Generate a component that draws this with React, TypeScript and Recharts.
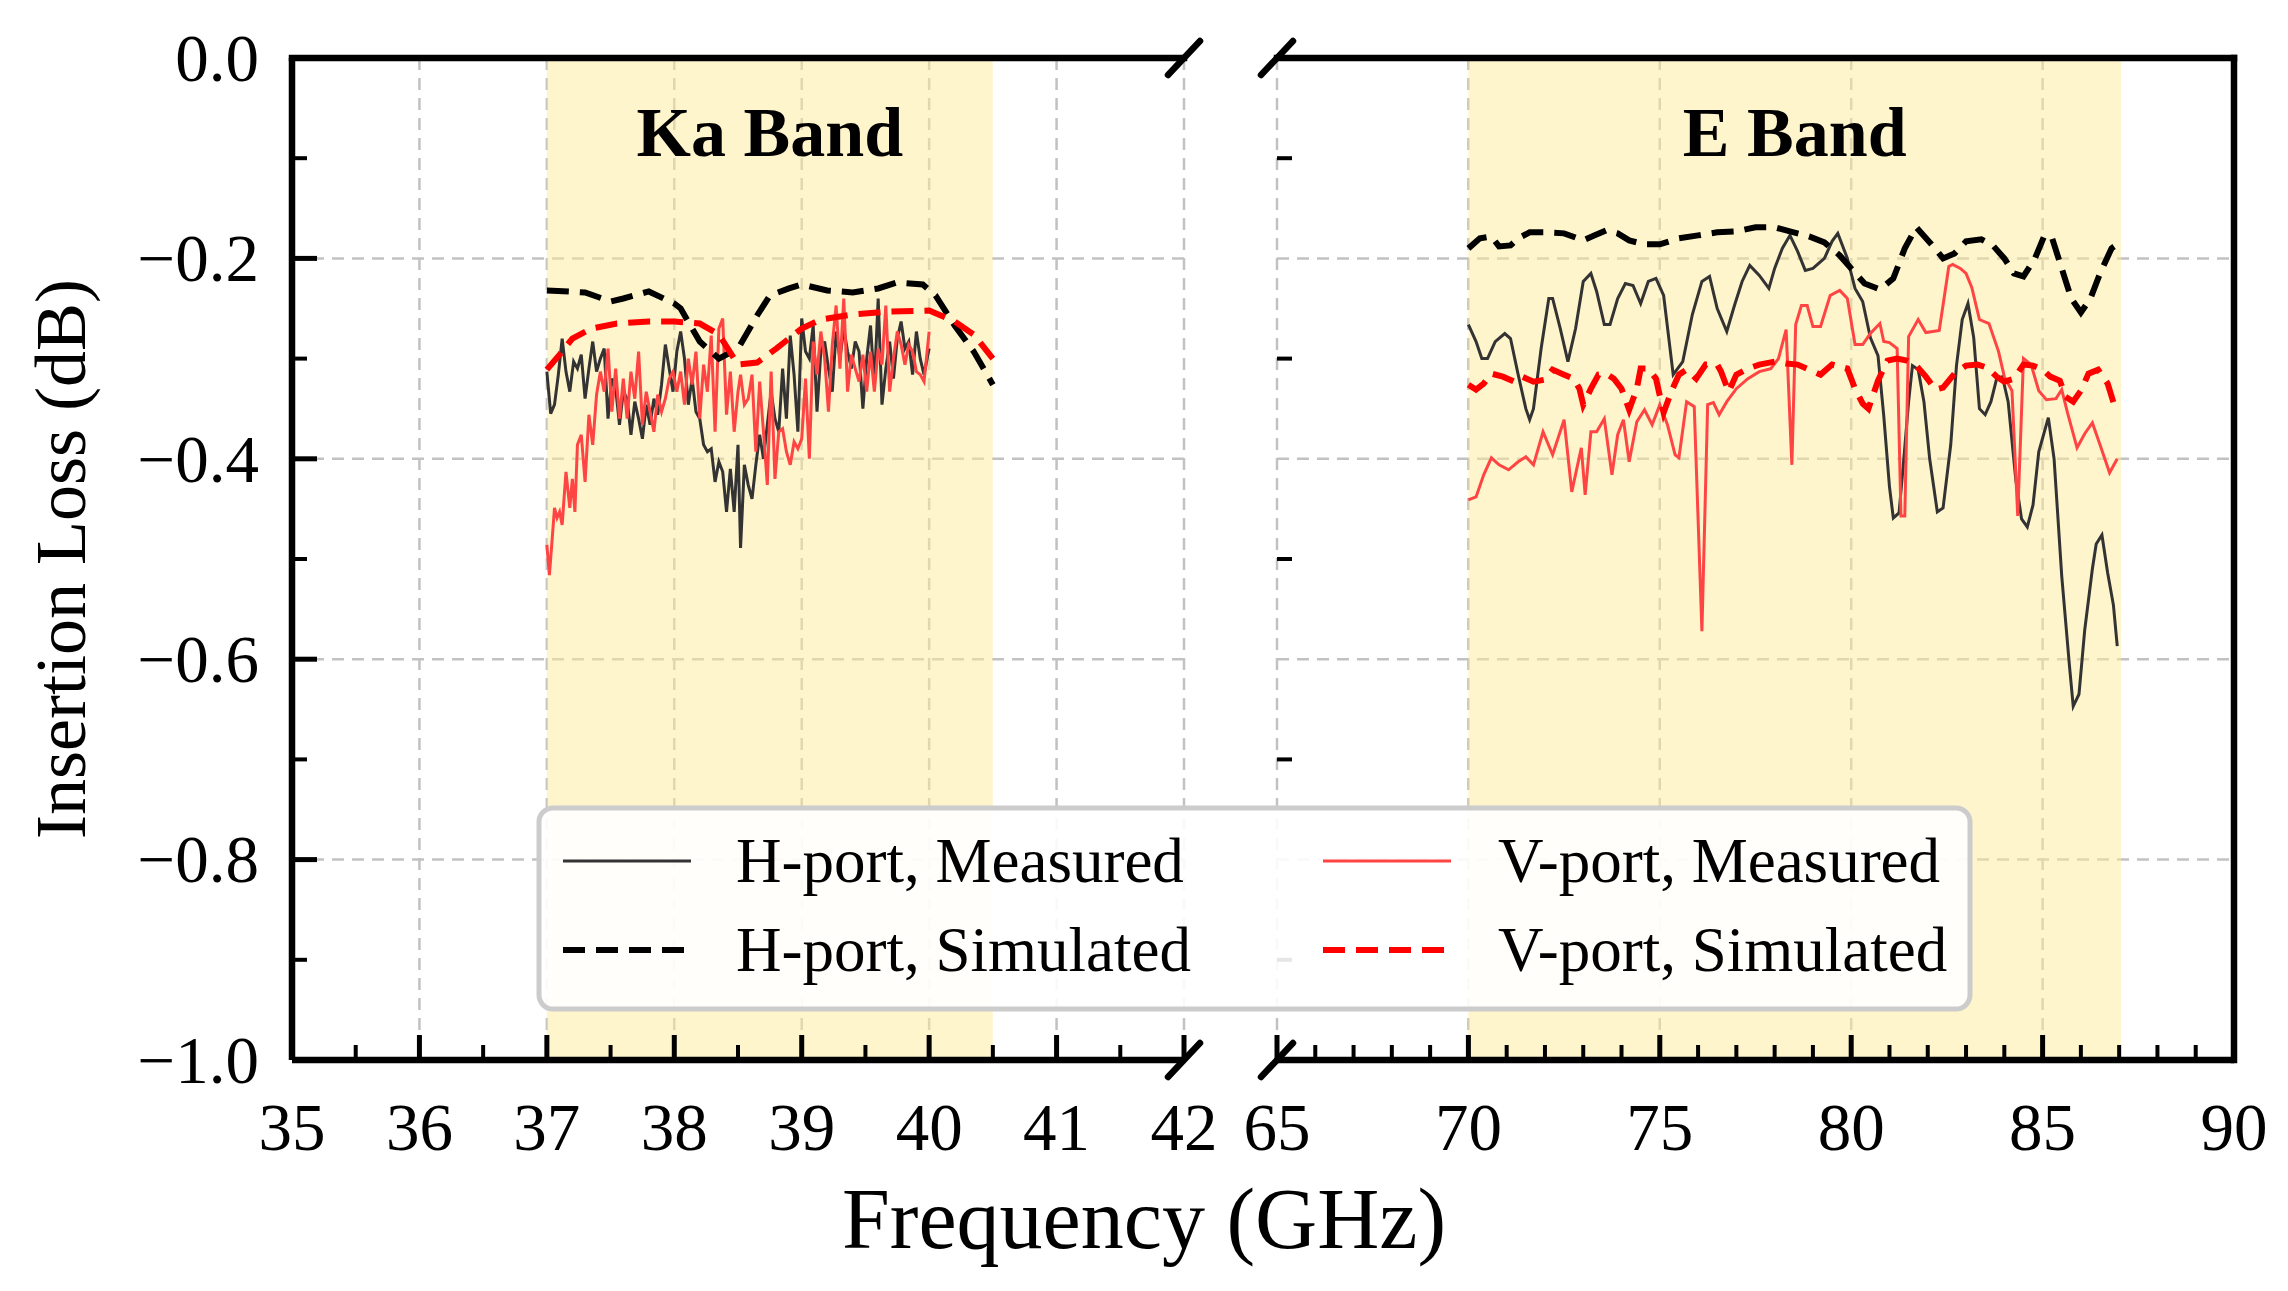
import React from 'react';
import {
  LineChart,
  Line,
  XAxis,
  YAxis,
  CartesianGrid,
  ReferenceArea,
  ReferenceLine,
  ReferenceDot,
} from 'recharts';

const SERIF = '"Liberation Serif", "Times New Roman", serif';

// ---------- axes ----------
const kaTicks = [35, 36, 37, 38, 39, 40, 41, 42];
const kaMinorTicks = [35.5, 36.5, 37.5, 38.5, 39.5, 40.5, 41.5];
const eTicks = [65, 70, 75, 80, 85, 90];
const eMinorTicks = [66, 67, 68, 69, 71, 72, 73, 74, 76, 77, 78, 79, 81, 82, 83, 84, 86, 87, 88, 89];
const lossTicks = [0, -0.2, -0.4, -0.6, -0.8, -1];
const lossMinorTicks = [-0.1, -0.3, -0.5, -0.7, -0.9];
const gridLoss = [-0.2, -0.4, -0.6, -0.8];
const kaGridFreq = [36, 37, 38, 39, 40, 41, 42];
const eGridFreq = [65, 70, 75, 80, 85];

// shaded bands (GHz)
const kaBand = [37, 40.5];
const eBand = [70, 87.05];

// ---------- Ka band ----------
const kaHMeasFreq = [
  37.0, 37.03, 37.06, 37.09, 37.12, 37.15, 37.18, 37.21, 37.24, 37.27,
  37.3, 37.33, 37.36, 37.39, 37.42, 37.45, 37.48, 37.51, 37.54, 37.57,
  37.6, 37.63, 37.66, 37.69, 37.72, 37.75, 37.78, 37.81, 37.84, 37.87,
  37.9, 37.93, 37.96, 37.99, 38.02, 38.05, 38.08, 38.11, 38.14, 38.17,
  38.2, 38.23, 38.26, 38.29, 38.32, 38.35, 38.38, 38.41, 38.44, 38.47,
  38.5, 38.52, 38.55, 38.58, 38.61, 38.64, 38.67, 38.7, 38.73, 38.76,
  38.79, 38.82, 38.85, 38.88, 38.91, 38.94, 38.97, 39.0, 39.03, 39.06,
  39.09, 39.12, 39.15, 39.18, 39.21, 39.24, 39.27, 39.3, 39.33, 39.36,
  39.39, 39.42, 39.45, 39.48, 39.51, 39.54, 39.57, 39.6, 39.63, 39.66,
  39.69, 39.72, 39.75, 39.78, 39.81, 39.84, 39.87, 39.9, 39.93, 39.96,
  40.0,
];
const kaHMeasLoss = [
  -0.313, -0.355, -0.346, -0.316, -0.28, -0.313, -0.333, -0.303, -0.31, -0.296,
  -0.34, -0.31, -0.283, -0.313, -0.3, -0.29, -0.36, -0.32, -0.33, -0.366,
  -0.333, -0.34, -0.376, -0.343, -0.36, -0.38, -0.346, -0.366, -0.34, -0.356,
  -0.326, -0.286, -0.31, -0.333, -0.293, -0.273, -0.3, -0.346, -0.32, -0.353,
  -0.36, -0.386, -0.393, -0.39, -0.423, -0.403, -0.413, -0.453, -0.41, -0.453,
  -0.386, -0.489, -0.406, -0.426, -0.44, -0.406, -0.376, -0.4, -0.366, -0.333,
  -0.36, -0.373, -0.31, -0.36, -0.277, -0.316, -0.373, -0.26, -0.293, -0.3,
  -0.267, -0.353, -0.293, -0.283, -0.31, -0.333, -0.273, -0.3, -0.27, -0.293,
  -0.31, -0.283, -0.293, -0.35, -0.3, -0.267, -0.326, -0.24, -0.346, -0.31,
  -0.283, -0.32, -0.28, -0.263, -0.29, -0.283, -0.316, -0.273, -0.3, -0.316,
  -0.29,
];

const kaVMeasFreq = [
  37.0, 37.02, 37.04, 37.06, 37.08, 37.1, 37.12, 37.15, 37.18, 37.2,
  37.22, 37.24, 37.27, 37.3, 37.33, 37.36, 37.39, 37.42, 37.45, 37.48,
  37.51, 37.54, 37.57, 37.6, 37.63, 37.66, 37.69, 37.72, 37.75, 37.78,
  37.81, 37.84, 37.87, 37.9, 37.93, 37.96, 37.99, 38.02, 38.05, 38.08,
  38.11, 38.14, 38.17, 38.2, 38.23, 38.26, 38.29, 38.32, 38.35, 38.38,
  38.41, 38.44, 38.47, 38.5, 38.52, 38.55, 38.58, 38.61, 38.64, 38.67,
  38.7, 38.73, 38.76, 38.79, 38.82, 38.85, 38.88, 38.91, 38.94, 38.97,
  39.0, 39.03, 39.06, 39.09, 39.12, 39.15, 39.18, 39.21, 39.24, 39.27,
  39.3, 39.33, 39.36, 39.39, 39.42, 39.45, 39.48, 39.51, 39.54, 39.57,
  39.6, 39.63, 39.66, 39.69, 39.72, 39.75, 39.78, 39.81, 39.84, 39.87,
  39.9, 39.93, 39.96, 40.0,
];
const kaVMeasLoss = [
  -0.486, -0.516, -0.483, -0.449, -0.459, -0.453, -0.466, -0.413, -0.449, -0.42,
  -0.453, -0.386, -0.376, -0.423, -0.356, -0.386, -0.336, -0.313, -0.333, -0.29,
  -0.353, -0.31, -0.36, -0.32, -0.36, -0.313, -0.34, -0.293, -0.366, -0.333,
  -0.353, -0.373, -0.336, -0.353, -0.34, -0.32, -0.313, -0.333, -0.313, -0.346,
  -0.3, -0.326, -0.293, -0.36, -0.306, -0.333, -0.277, -0.373, -0.27, -0.26,
  -0.356, -0.313, -0.373, -0.333, -0.316, -0.346, -0.34, -0.316, -0.393, -0.323,
  -0.373, -0.426, -0.313, -0.42, -0.373, -0.37, -0.393, -0.406, -0.383, -0.39,
  -0.38, -0.32, -0.4, -0.283, -0.316, -0.273, -0.3, -0.353, -0.286, -0.247,
  -0.31, -0.24, -0.333, -0.296, -0.31, -0.323, -0.296, -0.333, -0.293, -0.333,
  -0.29, -0.306, -0.247, -0.333, -0.3, -0.273, -0.286, -0.306, -0.286, -0.293,
  -0.313, -0.316, -0.323, -0.273,
];

const kaHSimFreq = [
  37.0, 37.3, 37.5, 37.6, 37.8, 38.0, 38.05, 38.2, 38.35, 38.5, 38.65, 38.75,
  38.9, 39.0, 39.2, 39.4, 39.6, 39.75, 39.95, 40.05, 40.2, 40.35, 40.5,
];
const kaHSimLoss = [
  -0.232, -0.234, -0.243, -0.24, -0.233, -0.245, -0.25, -0.283, -0.3, -0.29, -0.257, -0.237,
  -0.23, -0.226, -0.232, -0.234, -0.23, -0.224, -0.226, -0.237, -0.267, -0.293, -0.326,
];

const kaVSimFreq = [
  37.0, 37.1, 37.2, 37.35, 37.55, 37.8, 38.0, 38.2, 38.35, 38.5,
  38.65, 38.8, 39.0, 39.15, 39.4, 39.7, 40.0, 40.2, 40.35, 40.5,
];
const kaVSimLoss = [
  -0.311, -0.296, -0.28, -0.27, -0.265, -0.263, -0.263, -0.265, -0.276, -0.306,
  -0.304, -0.29, -0.27, -0.261, -0.256, -0.253, -0.252, -0.263, -0.276, -0.3,
];

// ---------- E band ----------
const eHMeasFreq = [
  70.0, 70.2, 70.35, 70.5, 70.7, 70.95, 71.1, 71.3, 71.5, 71.6,
  71.7, 71.9, 72.1, 72.2, 72.4, 72.6, 72.8, 73.0, 73.2, 73.35,
  73.55, 73.7, 73.9, 74.1, 74.3, 74.5, 74.7, 74.9, 75.1, 75.35,
  75.6, 75.85, 76.1, 76.3, 76.5, 76.75, 76.95, 77.15, 77.35, 77.6,
  77.85, 78.0, 78.2, 78.4, 78.6, 78.8, 79.0, 79.3, 79.5, 79.65,
  79.9, 80.1, 80.3, 80.5, 80.7, 80.85, 81.0, 81.1, 81.25, 81.35,
  81.5, 81.6, 81.75, 81.9, 82.05, 82.25, 82.4, 82.6, 82.75, 82.9,
  83.05, 83.2, 83.35, 83.5, 83.65, 83.8, 83.95, 84.1, 84.3, 84.45,
  84.6, 84.75, 84.9, 85.15, 85.3, 85.5, 85.7, 85.8, 85.95, 86.1,
  86.3, 86.4, 86.55, 86.7, 86.85, 86.95,
];
const eHMeasLoss = [
  -0.266, -0.283, -0.3, -0.3, -0.283, -0.275, -0.28, -0.316, -0.35, -0.361,
  -0.35, -0.29, -0.24, -0.24, -0.27, -0.303, -0.27, -0.223, -0.215, -0.233,
  -0.266, -0.266, -0.24, -0.225, -0.227, -0.245, -0.223, -0.22, -0.237, -0.316,
  -0.303, -0.256, -0.223, -0.218, -0.25, -0.273, -0.247, -0.223, -0.207, -0.217,
  -0.23, -0.21, -0.19, -0.177, -0.193, -0.212, -0.21, -0.2, -0.183, -0.175,
  -0.2, -0.23, -0.243, -0.279, -0.297, -0.357, -0.428, -0.459, -0.454, -0.411,
  -0.343, -0.307, -0.311, -0.343, -0.4, -0.453, -0.449, -0.386, -0.307, -0.261,
  -0.245, -0.279, -0.35, -0.356, -0.343, -0.32, -0.318, -0.343, -0.421, -0.46,
  -0.468, -0.446, -0.393, -0.359, -0.4, -0.517, -0.606, -0.647, -0.635, -0.571,
  -0.51, -0.485, -0.476, -0.514, -0.546, -0.587,
];

const eVMeasFreq = [
  70.0, 70.2, 70.4, 70.6, 70.8, 71.05, 71.3, 71.5, 71.7, 71.95,
  72.2, 72.5, 72.7, 72.95, 73.05, 73.2, 73.35, 73.55, 73.75, 73.9,
  74.05, 74.2, 74.4, 74.6, 74.8, 75.0, 75.2, 75.4, 75.5, 75.7,
  75.9, 76.1, 76.25, 76.4, 76.55, 76.75, 77.0, 77.3, 77.6, 77.9,
  78.1, 78.3, 78.45, 78.55, 78.7, 78.85, 79.0, 79.2, 79.45, 79.7,
  79.9, 80.1, 80.3, 80.5, 80.75, 80.85, 81.0, 81.2, 81.3, 81.4,
  81.5, 81.75, 81.95, 82.3, 82.55, 82.65, 82.85, 83.0, 83.15, 83.35,
  83.6, 83.85, 84.0, 84.2, 84.35, 84.5, 84.7, 84.9, 85.1, 85.35,
  85.5, 85.65, 85.9, 86.1, 86.3, 86.5, 86.75, 86.95,
];
const eVMeasLoss = [
  -0.441, -0.438, -0.416, -0.399, -0.406, -0.411, -0.403, -0.398, -0.406, -0.373,
  -0.396, -0.361, -0.433, -0.389, -0.436, -0.373, -0.373, -0.36, -0.416, -0.376,
  -0.361, -0.403, -0.363, -0.351, -0.366, -0.346, -0.366, -0.396, -0.399, -0.343,
  -0.348, -0.572, -0.346, -0.344, -0.356, -0.343, -0.33, -0.32, -0.313, -0.31,
  -0.3, -0.271, -0.406, -0.266, -0.247, -0.247, -0.268, -0.268, -0.237, -0.232,
  -0.24, -0.286, -0.286, -0.275, -0.265, -0.283, -0.284, -0.29, -0.457, -0.457,
  -0.278, -0.261, -0.274, -0.272, -0.208, -0.206, -0.21, -0.215, -0.229, -0.261,
  -0.265, -0.293, -0.318, -0.332, -0.457, -0.3, -0.306, -0.332, -0.341, -0.34,
  -0.331, -0.354, -0.389, -0.375, -0.364, -0.386, -0.414, -0.4,
];

const eHSimFreq = [
  70.0, 70.3, 70.6, 70.8, 71.1, 71.3, 71.6, 72.0, 72.5, 73.0,
  73.3, 73.6, 73.9, 74.2, 74.6, 75.0, 75.5, 76.0, 76.5, 77.0,
  77.5, 78.0, 78.4, 78.9, 79.3, 79.7, 80.0, 80.35, 80.75, 81.1,
  81.4, 81.7, 82.1, 82.4, 82.7, 83.0, 83.4, 83.7, 84.0, 84.25,
  84.5, 84.8, 85.05, 85.25, 85.5, 85.75, 86.0, 86.25, 86.5, 86.8,
  86.95,
];
const eHSimLoss = [
  -0.19, -0.18, -0.178, -0.188, -0.187, -0.18, -0.174, -0.174, -0.175, -0.182,
  -0.177, -0.172, -0.175, -0.182, -0.186, -0.186, -0.18, -0.177, -0.174, -0.173,
  -0.169, -0.169, -0.173, -0.178, -0.184, -0.197, -0.21, -0.225, -0.231, -0.22,
  -0.19, -0.169, -0.186, -0.2, -0.195, -0.183, -0.181, -0.187, -0.2, -0.215,
  -0.218, -0.2, -0.177, -0.18, -0.21, -0.24, -0.254, -0.24, -0.215, -0.19,
  -0.186,
];

const eVSimFreq = [
  70.0, 70.2, 70.4, 70.6, 70.9, 71.2, 71.4, 71.7, 72.0, 72.2,
  72.5, 72.75, 72.9, 73.0, 73.2, 73.4, 73.6, 73.8, 74.0, 74.2,
  74.4, 74.5, 74.7, 74.9, 75.1, 75.3, 75.5, 75.7, 75.95, 76.2,
  76.5, 76.6, 76.8, 77.0, 77.3, 77.6, 78.0, 78.3, 78.6, 78.9,
  79.2, 79.5, 79.9, 80.1, 80.3, 80.45, 80.7, 80.95, 81.2, 81.45,
  81.7, 81.95, 82.2, 82.4, 82.7, 83.0, 83.3, 83.55, 83.8, 84.0,
  84.25, 84.5, 84.75, 85.0, 85.2, 85.45, 85.6, 85.8, 86.0, 86.2,
  86.45, 86.7, 86.9,
];
const eVSimLoss = [
  -0.326, -0.331, -0.325, -0.315, -0.318, -0.323, -0.318, -0.323, -0.321, -0.311,
  -0.316, -0.32, -0.33, -0.346, -0.33, -0.316, -0.315, -0.32, -0.33, -0.351,
  -0.33, -0.31, -0.31, -0.32, -0.354, -0.333, -0.316, -0.311, -0.32, -0.306,
  -0.306, -0.313, -0.333, -0.316, -0.31, -0.306, -0.303, -0.305, -0.306, -0.311,
  -0.316, -0.306, -0.31, -0.33, -0.345, -0.35, -0.322, -0.302, -0.3, -0.302,
  -0.307, -0.318, -0.331, -0.329, -0.315, -0.307, -0.306, -0.309, -0.318, -0.323,
  -0.32, -0.306, -0.307, -0.311, -0.318, -0.322, -0.338, -0.343, -0.332, -0.315,
  -0.311, -0.325, -0.35,
];

type Pt = { f: number; v: number };
const zip = (f: number[], v: number[]): Pt[] => f.map((x, i) => ({ f: x, v: v[i] }));

// ---------- styles ----------
const SPINE = 6.5;
const MAJOR_LEN = 25;
const MINOR_LEN = 15;
const TICK_FONT = 67;

const series = [
  { key: 'hMeas', name: 'H-port, Measured', stroke: '#333333', width: 3, dash: undefined },
  { key: 'vMeas', name: 'V-port, Measured', stroke: '#ff4444', width: 3, dash: undefined },
  { key: 'hSim', name: 'H-port, Simulated', stroke: '#000000', width: 6, dash: '22 11' },
  { key: 'vSim', name: 'V-port, Simulated', stroke: '#ff0000', width: 6, dash: '22 11' },
];

const fmtLoss = (v: number) => (v === 0 ? '0.0' : '\u2212' + Math.abs(v).toFixed(1));

function XTick(props: any) {
  const { x, y, payload, majors } = props;
  const major = majors.includes(payload.value);
  return (
    <g>
      <line
        x1={x}
        x2={x}
        y1={y}
        y2={y - (major ? MAJOR_LEN : MINOR_LEN)}
        stroke="#000"
        strokeWidth={major ? 5 : 4}
      />
      {major && (
        <text x={x} y={y + 42} dy="0.71em" textAnchor="middle" fontFamily={SERIF} fontSize={TICK_FONT} fill="#000">
          {payload.value}
        </text>
      )}
    </g>
  );
}

function YTick(props: any) {
  const { x, y, payload, labels } = props;
  const major = lossTicks.includes(payload.value);
  return (
    <g>
      <line
        x1={x}
        x2={x + (major ? MAJOR_LEN : MINOR_LEN)}
        y1={y}
        y2={y}
        stroke="#000"
        strokeWidth={major ? 5 : 4}
      />
      {labels && major && (
        <text x={x - 33} y={y} dy="0.34em" textAnchor="end" fontFamily={SERIF} fontSize={TICK_FONT} fill="#000">
          {fmtLoss(payload.value)}
        </text>
      )}
    </g>
  );
}

function BreakMark(props: any) {
  const { cx, cy } = props;
  return (
    <line x1={cx - 16} y1={cy + 17} x2={cx + 16} y2={cy - 17} stroke="#000" strokeWidth={SPINE} strokeLinecap="round" />
  );
}

type PanelProps = {
  width: number;
  yAxisWidth: number;
  rightMargin: number;
  xDomain: [number, number];
  majors: number[];
  minors: number[];
  gridFreq: number[];
  band: number[];
  bandLabel: string;
  lines: Pt[][];
  isLeft: boolean;
};

function Panel({ width, yAxisWidth, rightMargin, xDomain, majors, minors, gridFreq, band, bandLabel, lines, isLeft }: PanelProps) {
  const xTicks = [...majors, ...minors].sort((a, b) => a - b);
  const yTicks = isLeft ? [...lossTicks, ...lossMinorTicks].sort((a, b) => a - b) : lossMinorTicks;
  const breakX = isLeft ? xDomain[1] : xDomain[0];
  return (
    <LineChart width={width} height={1291} margin={{ top: 58, right: rightMargin, bottom: 201, left: 0 }}>
      <CartesianGrid
        horizontalValues={gridLoss}
        verticalValues={gridFreq}
        stroke="#c2c2c2"
        strokeWidth={2.5}
        strokeDasharray="12 8"
      />
      <ReferenceArea
        x1={band[0]}
        x2={band[1]}
        y1={-1}
        y2={0}
        fill="#ffeb99"
        fillOpacity={0.5}
        stroke="none"
        label={{
          value: bandLabel,
          position: 'insideTop',
          offset: 48,
          style: { fontFamily: SERIF, fontSize: 70, fontWeight: 'bold', fill: '#000' },
        }}
      />
      <XAxis
        dataKey="f"
        type="number"
        domain={xDomain}
        ticks={xTicks}
        interval={0}
        height={30}
        tickLine={false}
        tickSize={0}
        tickMargin={0}
        axisLine={{ stroke: '#000', strokeWidth: SPINE }}
        tick={(p: any) => <XTick {...p} majors={majors} />}
      />
      <YAxis
        type="number"
        domain={[-1, 0]}
        ticks={yTicks}
        interval={0}
        width={yAxisWidth}
        tickLine={false}
        tickSize={0}
        tickMargin={0}
        axisLine={isLeft ? { stroke: '#000', strokeWidth: SPINE } : false}
        tick={(p: any) => <YTick {...p} labels={isLeft} />}
        label={
          isLeft
            ? {
                value: 'Insertion Loss (dB)',
                angle: -90,
                position: 'insideLeft',
                offset: 59,
                style: { textAnchor: 'middle', fontFamily: SERIF, fontSize: 72, fill: '#000' },
              }
            : undefined
        }
      />
      <ReferenceLine y={0} stroke="#000" strokeWidth={SPINE} strokeLinecap="square" />
      {!isLeft && <ReferenceLine x={xDomain[1]} stroke="#000" strokeWidth={SPINE} strokeLinecap="square" />}
      {series.map((s, i) => (
        <Line
          key={s.key}
          data={lines[i]}
          dataKey="v"
          type="linear"
          stroke={s.stroke}
          strokeWidth={s.width}
          strokeDasharray={s.dash}
          dot={false}
          activeDot={false}
          isAnimationActive={false}
        />
      ))}
      <ReferenceDot x={breakX} y={0} r={0} shape={BreakMark} ifOverflow="visible" />
      <ReferenceDot x={breakX} y={-1} r={0} shape={BreakMark} ifOverflow="visible" />
    </LineChart>
  );
}

// legend layout (box at 539,808)
const legendCols = [
  { lineX: 24, textX: 197 },
  { lineX: 784, textX: 959 },
];
const legendRows = [53, 142];
const legendOrder = [
  { s: 0, col: 0, row: 0 },
  { s: 2, col: 0, row: 1 },
  { s: 1, col: 1, row: 0 },
  { s: 3, col: 1, row: 1 },
];

function Overlay() {
  return (
    <svg
      width={2288}
      height={1291}
      style={{ position: 'absolute', left: 0, top: 0, pointerEvents: 'none' }}
    >
      <text x={1144} y={1248} textAnchor="middle" fontFamily={SERIF} fontSize={86} fill="#000">
        Frequency (GHz)
      </text>
      <g transform="translate(539, 808)">
        <rect x={0} y={0} width={1431} height={201} rx={14} fill="#ffffff" fillOpacity={0.9} stroke="#cccccc" strokeWidth={5} />
        {legendOrder.map(({ s, col, row }) => {
          const item = series[s];
          const c = legendCols[col];
          const y = legendRows[row];
          return (
            <g key={item.key}>
              <line
                x1={c.lineX}
                x2={c.lineX + 128}
                y1={y}
                y2={y}
                stroke={item.stroke}
                strokeWidth={item.width}
                strokeDasharray={item.dash}
              />
              <text x={c.textX} y={y} dy="0.33em" fontFamily={SERIF} fontSize={63} fill="#000">
                {item.name}
              </text>
            </g>
          );
        })}
      </g>
    </svg>
  );
}

export default function App() {
  return (
    <div style={{ position: 'absolute', left: 0, top: 0, width: 2288, height: 1291, background: '#fff' }}>
      <div style={{ position: 'absolute', left: 0, top: 0 }}>
        <Panel
          width={1240}
          yAxisWidth={292}
          rightMargin={56}
          xDomain={[35, 42]}
          majors={kaTicks}
          minors={kaMinorTicks}
          gridFreq={kaGridFreq}
          band={kaBand}
          bandLabel="Ka Band"
          lines={[
            zip(kaHMeasFreq, kaHMeasLoss),
            zip(kaVMeasFreq, kaVMeasLoss),
            zip(kaHSimFreq, kaHSimLoss),
            zip(kaVSimFreq, kaVSimLoss),
          ]}
          isLeft
        />
      </div>
      <div style={{ position: 'absolute', left: 1240, top: 0 }}>
        <Panel
          width={1048}
          yAxisWidth={37}
          rightMargin={54}
          xDomain={[65, 90]}
          majors={eTicks}
          minors={eMinorTicks}
          gridFreq={eGridFreq}
          band={eBand}
          bandLabel="E Band"
          lines={[
            zip(eHMeasFreq, eHMeasLoss),
            zip(eVMeasFreq, eVMeasLoss),
            zip(eHSimFreq, eHSimLoss),
            zip(eVSimFreq, eVSimLoss),
          ]}
          isLeft={false}
        />
      </div>
      <Overlay />
    </div>
  );
}
